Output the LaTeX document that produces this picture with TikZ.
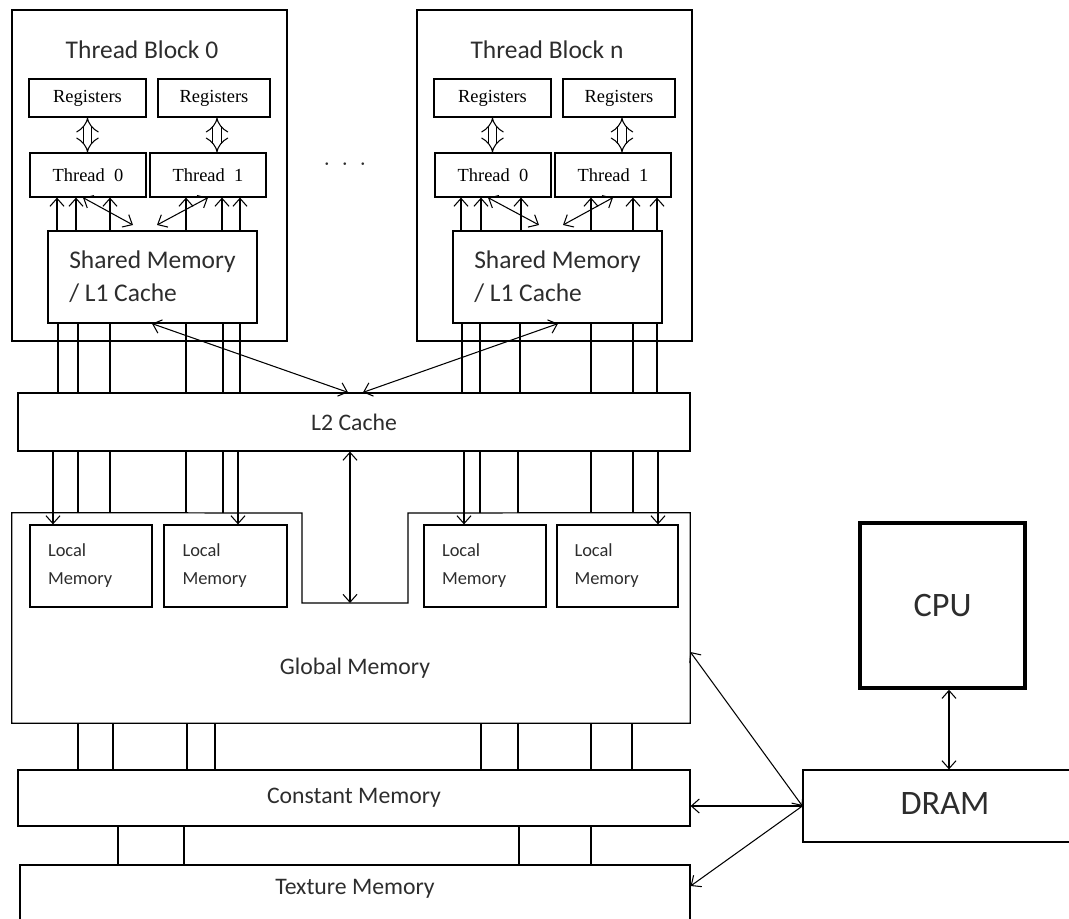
\documentclass[tikz,border=0pt]{standalone}
\usepackage{fontspec}
\setmainfont{Carlito}
\newfontfamily\regfont{Liberation Serif}
\usetikzlibrary{arrows.meta,fit}
\definecolor{txtgray}{RGB}{45,45,45}

\begin{document}
\begin{tikzpicture}[x=0.02cm,y=-0.02cm,
	>={Straight Barb[length=4.5pt,width=8pt]},
	box/.style={draw, line width=0.7pt, inner sep=0pt},
	lbl/.style={font=\fontsize{13.5}{18.5}\selectfont, text=txtgray},
	small/.style={font=\regfont\fontsize{10.5}{12}\selectfont},
	loc/.style={align=left, text width=1.72cm, font=\fontsize{10.5}{16}\selectfont, text=txtgray},
	big/.style={font=\fontsize{19.5}{22}\selectfont, text=txtgray},
	dbl/.style={double, double distance=4pt, line width=0.6pt, arrows={Implies[scale=1.4]-Implies[scale=1.4]}},
	wire/.style={line width=0.6pt}]
	\useasboundingbox (0,0) rectangle (1069,919);
	% thread block 0
	\node[box, fit={(12,10) (287,341)}] (tb0) {};
	\node[lbl, font=\fontsize{14.5}{16}\selectfont] (tbt0) at (142,50) {Thread Block 0};
	\node[box, fit={(29,79) (146,117)}, label={[small]center:Registers}] (r00) {};
	\node[box, fit={(158,79) (270,117)}, label={[small]center:Registers}] (r01) {};
	\node[box, fit={(30,153) (146,197)}, label={[small]center:Thread~~0}] (t00) {};
	\node[box, fit={(150,153) (266,197)}, label={[small]center:Thread~~1}] (t01) {};
	\node[box, fit={(48,231) (257,323)},
		label={[lbl, font=\fontsize{14.5}{19}\selectfont, align=left]center:Shared Memory\\/ L1 Cache}] (sm0) {};
	% thread block n
	\node[box, fit={(417,10) (692,341)}] (tbn) {};
	\node[lbl, font=\fontsize{14.5}{16}\selectfont] (tbtn) at (547,50) {Thread Block n};
	\node[box, fit={(434,79) (551,117)}, label={[small]center:Registers}] (rn0) {};
	\node[box, fit={(563,79) (675,117)}, label={[small]center:Registers}] (rn1) {};
	\node[box, fit={(435,153) (551,197)}, label={[small]center:Thread~~0}] (tn0) {};
	\node[box, fit={(555,153) (671,197)}, label={[small]center:Thread~~1}] (tn1) {};
	\node[box, fit={(453,231) (662,323)},
		label={[lbl, font=\fontsize{14.5}{19}\selectfont, align=left]center:Shared Memory\\/ L1 Cache}] (smn) {};
	\node[lbl] (dots) at (345,165) {$\cdot\ \cdot\ \cdot$};
	% caches and memories
	\node[box, fit={(18,393) (690,451)}, label={[lbl]center:L2 Cache}] (l2) {};
	\node[box, fit={(30,525) (152,607)}, label={[loc]center:Local\\Memory}] (lm0) {};
	\node[box, fit={(164,525) (287,607)}, label={[loc]center:Local\\Memory}] (lm1) {};
	\node[box, fit={(424,525) (546,607)}, label={[loc]center:Local\\Memory}] (lm2) {};
	\node[box, fit={(557,525) (678,607)}, label={[loc]center:Local\\Memory}] (lm3) {};
	\node[inner sep=0pt, fit={(12,513) (690,723)}] (glob) {};
	\draw[line width=0.7pt] (glob.north west) -- (302,513) -- (302,603) coordinate (nl)
		-- (408,603) -- (408,513) -- (glob.north east) -- (glob.south east)
		-- (glob.south west) -- cycle;
	\node[lbl] (globtxt) at (355,668) {Global Memory};
	\node[box, fit={(18,770) (690,826)}, label={[lbl]center:Constant Memory}] (cm) {};
	\node[box, fit={(20,865) (690,940)}] (tm) {};
	\node[lbl] (tmtxt) at (355,889) {Texture Memory};
	\node[box, line width=2pt, fit={(860,523) (1025,688)}, label={[big]center:CPU}] (cpu) {};
	\node[box, fit={(803,770) (1090,842)}] (dram) {};
	\node[big] (dramtxt) at (945,804) {DRAM};
	% inside the blocks
	\draw[dbl] (r00.south) -- (r00.south |- t00.north);
	\draw[dbl] (217,0 |- r01.south) -- (217,0 |- t01.north);
	\draw[dbl] (rn0.south) -- (rn0.south |- tn0.north);
	\draw[dbl] (622,0 |- rn1.south) -- (622,0 |- tn1.north);
	\foreach \x in {57,76,110} \draw[wire,->] (\x,0 |- sm0.north) -- (\x,0 |- t00.south);
	\foreach \x in {186,222,240} \draw[wire,->] (\x,0 |- sm0.north) -- (\x,0 |- t01.south);
	\foreach \x in {461,481,521} \draw[wire,->] (\x,0 |- smn.north) -- (\x,0 |- tn0.south);
	\foreach \x in {591,633,657} \draw[wire,->] (\x,0 |- smn.north) -- (\x,0 |- tn1.south);
	\draw[wire,<->] (83,0 |- t00.south) -- (133,225);
	\draw[wire,<->] (208,0 |- t01.south) -- (157,225);
	\draw[wire,<->] (488,0 |- tn0.south) -- (539,225);
	\draw[wire,<->] (613,0 |- tn1.south) -- (563,225);
	% shared memory to L2
	\foreach \x in {58,78,110,186,223,240,462,480,520,591,633,657}
		\draw[wire] (\x,0 |- sm0.south) -- (\x,0 |- l2.north);
	\draw[wire,<->] (152,0 |- sm0.south) -- (348,0 |- l2.north);
	\draw[wire,<->] (558,0 |- smn.south) -- (363,0 |- l2.north);
	% L2 to local and global memory
	\draw[wire,->] (53,0 |- l2.south) -- (53,0 |- lm0.north);
	\draw[wire,->] (238,0 |- l2.south) -- (238,0 |- lm1.north);
	\draw[wire,->] (464,0 |- l2.south) -- (464,0 |- lm2.north);
	\draw[wire,->] (658,0 |- l2.south) -- (658,0 |- lm3.north);
	\foreach \x in {78,110,186,223,480,518,591,633}
		\draw[wire] (\x,0 |- l2.south) -- (\x,0 |- glob.north);
	\draw[wire,<->] (350,0 |- l2.south) -- (350,0 |- nl);
	% global, constant and texture memory
	\foreach \x in {78,113,187,215,481,518,591,632}
		\draw[wire] (\x,0 |- glob.south) -- (\x,0 |- cm.north);
	\foreach \x in {118,184,519,591}
		\draw[wire] (\x,0 |- cm.south) -- (\x,0 |- tm.north);
	% host side
	\draw[wire,<->] (949,0 |- cpu.south) -- (949,0 |- dram.north);
	\draw[wire,<->] (dram.west) -- (glob.east |- 0,652);
	\draw[wire,->] (dram.west) -- (dram.west -| cm.east);
	\draw[wire,->] (dram.west) -- (tm.east |- 0,886);
\end{tikzpicture}
\end{document}
